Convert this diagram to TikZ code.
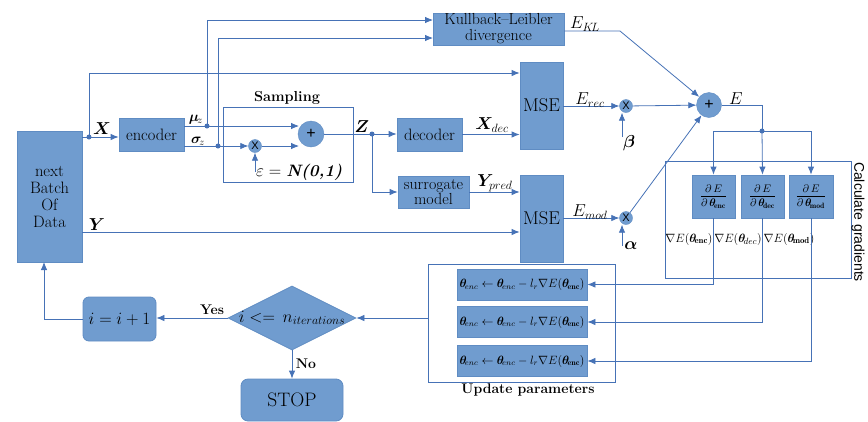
\documentclass[tikz,border=0pt]{standalone}
\usepackage{fontspec}
\usepackage{amsmath,bm}
\usetikzlibrary{arrows.meta,shapes.geometric,calc}
\newfontfamily\arialf{Liberation Sans}
\definecolor{boxfill}{RGB}{112,156,207}
\definecolor{boxdraw}{RGB}{95,140,195}
\definecolor{lnc}{RGB}{70,114,182}
\begin{document}
\begin{tikzpicture}[x=1pt,y=-1pt,
  font=\fontsize{16.5}{17}\selectfont,
  blk/.style={draw=boxdraw,fill=boxfill,line width=0.8pt,inner sep=0pt,align=center},
  frame/.style={draw=lnc,line width=0.8pt,inner sep=0pt},
  ln/.style={draw=lnc,line width=0.8pt},
  arr/.style={ln,-{Latex[length=8pt,width=6.5pt]}},
  opc/.style={circle,draw=boxdraw,fill=boxfill,inner sep=0pt,font=\arialf\fontsize{16}{16}\selectfont},
  lbl/.style={inner sep=0pt},
  upd/.style={blk,minimum width=130pt,minimum height=31pt,font=\fontsize{11.5}{13}\selectfont},
  pd/.style={blk,minimum width=43pt,minimum height=43pt,font=\fontsize{11}{13}\selectfont},
]
\useasboundingbox (0,0) rectangle (868,421);

% blocks
\node[blk,minimum width=65pt,minimum height=131pt] (batch) at (49.5,196.5) {next\\Batch\\Of\\Data};
\node[blk,minimum width=65pt,minimum height=33pt] (enc) at (151.5,134.5) {encoder};
\node[blk,minimum width=131pt,minimum height=32pt,font=\fontsize{16}{16}\selectfont] (kl) at (498.5,29) {Kullback--Leibler\\divergence};
\node[blk,minimum width=43pt,minimum height=87pt,font=\fontsize{18.5}{20}\selectfont] (mse1) at (541.5,105.5) {MSE};
\node[blk,minimum width=43pt,minimum height=87pt,font=\fontsize{18.5}{20}\selectfont] (mse2) at (541.5,218.5) {MSE};
\node[blk,minimum width=65pt,minimum height=33pt] (dec) at (429.5,134.5) {decoder};
\node[blk,minimum width=71pt,minimum height=32pt,font=\fontsize{16}{15}\selectfont] (sur) at (433.5,192) {surrogate\\model};

% sampling
\node[frame,minimum width=130pt,minimum height=75pt] (samp) at (288,144.5) {};
\node[lbl,font=\bfseries\fontsize{14.5}{16}\selectfont] (samplbl) at (287,98) {Sampling};
\node[opc,minimum size=26pt] (plus1) at (311,134) {+};
\node[opc,minimum size=13pt,font=\arialf\fontsize{11}{11}\selectfont] (mult1) at (255,146) {X};

% sums
\node[opc,minimum size=25pt] (plus2) at (709,105) {+};
\node[opc,minimum size=13pt,font=\arialf\fontsize{11}{11}\selectfont] (mult2) at (626,106) {X};
\node[opc,minimum size=13pt,font=\arialf\fontsize{11}{11}\selectfont] (mult3) at (626,218) {X};

% gradients
\node[frame,minimum width=186pt,minimum height=117pt] (calc) at (758,219.5) {};
\node[lbl,rotate=-90,font=\arialf\fontsize{14}{16}\selectfont] (calclbl) at (858,222) {Calculate gradients};
\node[pd] (p1) at (713.5,196.5) {$\dfrac{\partial\, E}{\partial\,\bm{\theta}_{\!\mathbf{enc}}}$};
\node[pd] (p2) at (762.5,196.5) {$\dfrac{\partial\, E}{\partial\,\bm{\theta}_{\!\mathbf{dec}}}$};
\node[pd,minimum width=44pt] (p3) at (811,196.5) {$\dfrac{\partial\, E}{\partial\,\bm{\theta}_{\!\mathbf{mod}}}$};
\node[lbl,font=\fontsize{12.5}{13}\selectfont] (g1) at (689,239) {$\nabla E(\bm{\theta}_{\!\mathbf{enc}})$};
\node[lbl,font=\fontsize{12.5}{13}\selectfont] (g2) at (738,239) {$\nabla E(\bm{\theta}_{\!dec})$};
\node[lbl,font=\fontsize{12.5}{13}\selectfont] (g3) at (789,239) {$\nabla E(\bm{\theta}_{\!\mathbf{mod}})$};

% update
\node[frame,minimum width=187pt,minimum height=118pt] (updbox) at (521.5,323) {};
\node[lbl,font=\bfseries\fontsize{14}{16}\selectfont] (updlbl) at (528,390) {Update parameters};
\node[upd] (u1) at (522,284.5) {$\bm{\theta}_{\!enc}\leftarrow\bm{\theta}_{\!enc}-l_r\nabla E(\bm{\theta}_{\!\mathbf{enc}})$};
\node[upd] (u2) at (522,322) {$\bm{\theta}_{\!enc}\leftarrow\bm{\theta}_{\!enc}-l_r\nabla E(\bm{\theta}_{\!\mathbf{enc}})$};
\node[upd] (u3) at (522,361) {$\bm{\theta}_{\!enc}\leftarrow\bm{\theta}_{\!enc}-l_r\nabla E(\bm{\theta}_{\!\mathbf{enc}})$};

% loop
\node[blk,diamond,minimum width=128pt,minimum height=64pt] (dia) at (292,318) {};
\node[lbl] (dialbl) at (292,318) {$i <= \, n_{iterations}$};
\node[blk,rounded corners=6pt,minimum width=73pt,minimum height=44pt] (inc) at (119.5,319) {$i = i + 1$};
\node[blk,rounded corners=7pt,minimum width=102pt,minimum height=42pt,font=\fontsize{19.5}{20}\selectfont] (stop) at (292,400) {STOP};

% coordinates
\coordinate (xdot) at (89,137);
\coordinate (xtop) at (89,73);
\coordinate (mud) at (207,126);
\coordinate (sgd) at (218,146);
\coordinate (klin1) at (433,20);
\coordinate (klin2) at (433,38);
\coordinate (pin1) at (299,126);
\coordinate (pin2) at (299,146);
\coordinate (epsb) at (255,172);
\coordinate (zdot) at (372,134);
\coordinate (yl) at (82,232);
\coordinate (klbend) at (620,31);
\coordinate (betab) at (622,137);
\coordinate (alphab) at (622,246);
\coordinate (ebend) at (762,105);
\coordinate (edot) at (762,131);
\coordinate (bb) at (44,262);

% connectors
\draw[ln] (batch.east |- xdot) -- (xdot);
\draw[arr] (xdot) -- (enc.west |- xdot);
\draw[arr] (xdot) -- (xtop) -- (mse1.west |- xtop);
\draw[ln] (enc.east |- mud) -- (mud);
\draw[ln] (enc.east |- sgd) -- (sgd);
\draw[arr] (mud) -- (pin1);
\draw[arr] (sgd) -- (mult1);
\draw[arr] (mult1) -- (pin2);
\draw[arr] (mud) |- (klin1);
\draw[arr] (sgd) |- (klin2);
\draw[arr] (epsb) -- (mult1);
\draw[ln] (plus1) -- (zdot);
\draw[arr] (zdot) -- (dec.west |- zdot);
\draw[arr] (zdot) |- (sur.west);
\draw[arr] (dec.east) -- (mse1.west |- dec.east);
\draw[arr] (sur.east) -- (mse2.west |- sur.east);
\draw[arr] (yl) -- (mse2.west |- yl);
\draw[arr] (kl.east |- klbend) -- (klbend) -- (plus2);
\draw[arr] (mse1.east |- mult2) -- (mult2);
\draw[arr] (mult2) -- (plus2);
\draw[arr] (betab) -- (betab |- mult2.south);
\draw[arr] (mse2.east |- mult3) -- (mult3);
\draw[arr] (alphab) -- (alphab |- mult3.south);
\draw[arr] (mult3) -- (plus2);
\draw[ln] (plus2.east) -- (ebend) -- (edot);
\draw[arr] (edot) -| (p1.north);
\draw[arr] (edot) -- (p2.north);
\draw[arr] (edot) -| (p3.north);
\draw[arr] (p1.south) |- (u1.east);
\draw[arr] (p2.south) |- (u2.east);
\draw[arr] (p3.south) |- (u3.east);
\draw[arr] (updbox.west |- dia.east) -- (dia.east);
\draw[arr] (dia.west) -- (inc.east |- dia.west);
\draw[arr] (inc.west) -| (bb);
\draw[arr] (dia.south) -- (stop.north);

% dots
\fill[lnc] (xdot) circle (2.5pt);
\fill[lnc] (mud) circle (2.5pt);
\fill[lnc] (sgd) circle (2.5pt);
\fill[lnc] (zdot) circle (2.5pt);
\fill[lnc] (edot) circle (2.5pt);

% labels
\node[lbl,font=\fontsize{17}{17}\selectfont] (lx) at (102,129) {$\bm{X}$};
\node[lbl,font=\fontsize{14.5}{14.5}\selectfont] (lmu) at (196,120) {$\bm{\mu}_{\!z}$};
\node[lbl,font=\fontsize{14.5}{14.5}\selectfont] (lsig) at (198,141) {$\bm{\sigma}_{\!z}$};
\node[lbl,font=\fontsize{17}{17}\selectfont] (lz) at (362,127) {$\bm{Z}$};
\node[lbl] (lxd) at (492,125) {$\bm{X}_{dec}$};
\node[lbl] (lyp) at (495,183) {$\bm{Y}_{pred}$};
\node[lbl,font=\fontsize{17}{17}\selectfont] (ly) at (97,225) {$\bm{Y}$};
\node[lbl] (lekl) at (585,24) {$E_{K\!L}$};
\node[lbl] (lerec) at (590,100) {$E_{rec}$};
\node[lbl] (lemod) at (590,212) {$E_{mod}$};
\node[lbl] (le) at (736,99) {$E$};
\node[lbl] (lbeta) at (629,143) {$\bm{\beta}$};
\node[lbl] (lalpha) at (631,246) {$\bm{\alpha}$};
\node[lbl,anchor=west] (leps) at (256,172) {$\varepsilon = $ \textbf{\textit{N(0,1)}}};
\node[lbl,font=\bfseries\fontsize{14}{16}\selectfont] (lyes) at (212,310) {Yes};
\node[lbl,font=\bfseries\fontsize{14}{16}\selectfont] (lno) at (306,364) {No};
\end{tikzpicture}
\end{document}
